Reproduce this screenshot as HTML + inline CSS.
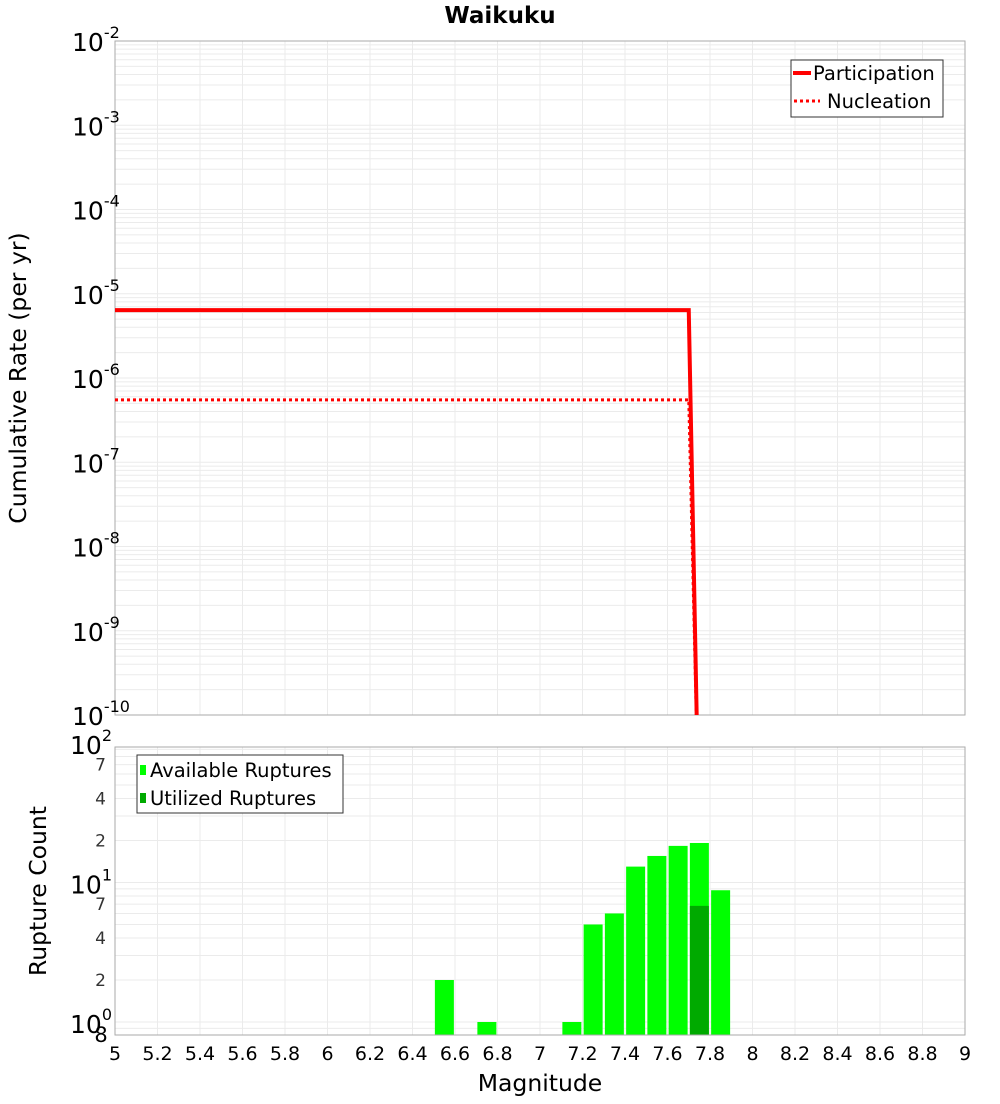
<!DOCTYPE html>
<html><head><meta charset="utf-8"><style>
body{margin:0;background:#fff;font-family:"DejaVu Sans","Liberation Sans",sans-serif}
svg text{font-family:"DejaVu Sans","Liberation Sans",sans-serif}
</style></head><body>
<svg id="c" width="1000" height="1100" xmlns="http://www.w3.org/2000/svg"></svg>
<script>
const lineMags=[5,7.7,7.745];
const participation=[6.4e-6,6.4e-6,1e-11];
const nucleation=[5.5e-7,5.5e-7,1e-11];
const barMags=[6.55,6.75,7.15,7.25,7.35,7.45,7.55,7.65,7.75,7.85];
const available=[2,1,1,5,6,13,15.5,18.3,19.2,8.8];
const utilized=[0,0,0,0,0,0,0,0,6.8,0];
const xTicks=[5,5.2,5.4,5.6,5.8,6,6.2,6.4,6.6,6.8,7,7.2,7.4,7.6,7.8,8,8.2,8.4,8.6,8.8,9];
const topExps=[-2,-3,-4,-5,-6,-7,-8,-9,-10];
const botMinor=[2,4,7,20,40,70];

const NS="http://www.w3.org/2000/svg";
const svg=document.getElementById('c');
function el(t,a,p){const e=document.createElementNS(NS,t);for(const k in a)e.setAttribute(k,a[k]);(p||svg).appendChild(e);return e;}
const X0=115,X1=965;
const xs=m=>X0+(m-5)/4*(X1-X0);
const T0=41,T1=715;
const yt=v=>T0+(-2-Math.log10(v))*(T1-T0)/8;
const B0=747,B1=1035;
const yb=v=>1022-Math.log10(v)*139.5;

const gTop=el('g',{});

for(let m=5;m<=9.001;m+=0.2){el('line',{x1:xs(m),x2:xs(m),y1:T0,y2:T1,stroke:'#ebebeb','stroke-width':1},gTop);}
for(let e=-10;e<-2;e++)for(let k=1;k<10;k++){const y=yt(k*Math.pow(10,e));el('line',{x1:X0,x2:X1,y1:y,y2:y,stroke:'#ebebeb','stroke-width':1},gTop);}
const f1=el('rect',{x:X0,y:T0,width:X1-X0,height:T1-T0,fill:'none',stroke:'#aaa'});

topExps.forEach(e=>{const y=yt(Math.pow(10,e));const t=el('text',{x:72,y:y+10,'font-size':25});

t.innerHTML='10<tspan dy="-13" font-size="16">'+e+'</tspan>';});
const clip=el('clipPath',{id:'tc'});el('rect',{x:X0,y:T0,width:X1-X0,height:T1-T0},clip);
function lp(arr){return lineMags.map((m,i)=>xs(m)+','+yt(arr[i])).join(' ');}
const pl=el('polyline',{points:lp(participation),fill:'none',stroke:'#f00','stroke-width':4,'clip-path':'url(#tc)'});

const nl=el('polyline',{points:lp(nucleation),fill:'none',stroke:'#f00','stroke-width':3,'stroke-dasharray':'3,3','clip-path':'url(#tc)'});

const lg=el('g',{});
el('rect',{x:791,y:60,width:152,height:57,fill:'#fff',stroke:'#333'},lg);
el('line',{x1:793,x2:811,y1:73,y2:73,stroke:'#f00','stroke-width':4},lg);
el('text',{x:813,y:80,'font-size':19.5},lg).textContent='Participation';
el('line',{x1:794,x2:820,y1:101,y2:101,stroke:'#f00','stroke-width':3,'stroke-dasharray':'3,3'},lg);
el('text',{x:827,y:108,'font-size':19.5},lg).textContent='Nucleation';
const tt=el('text',{x:500,y:23,'font-size':23,'font-weight':'bold','text-anchor':'middle'});
tt.textContent='Waikuku';
const yl=el('text',{x:0,y:0,'font-size':23.5,'text-anchor':'middle',transform:'translate(26,378) rotate(-90)'});
yl.textContent='Cumulative Rate (per yr)';

const gB=el('g',{});
for(let m=5;m<=9.001;m+=0.2){el('line',{x1:xs(m),x2:xs(m),y1:B0,y2:B1,stroke:'#ebebeb'},gB);}
[0.9,1,2,3,4,5,6,7,8,9,10,20,30,40,50,60,70,80,90].forEach(v=>{const y=yb(v);if(y>B0&&y<B1)el('line',{x1:X0,x2:X1,y1:y,y2:y,stroke:'#ebebeb'},gB);});
barMags.forEach((m,i)=>{const w=19,x=xs(m)-w/2;
const r=el('rect',{x:x,y:yb(available[i]),width:w,height:B1-yb(available[i]),fill:'#00ff00'});

if(utilized[i]>0){const u=el('rect',{x:x,y:yb(utilized[i]),width:w,height:B1-yb(utilized[i]),fill:'#00aa00'});
}});
const f2=el('rect',{x:X0,y:B0,width:X1-X0,height:B1-B0,fill:'none',stroke:'#aaa'});

[2,1,0].forEach(e=>{const y=yb(Math.pow(10,e));const t=el('text',{x:70,y:y+11,'font-size':25});

t.innerHTML='10<tspan dy="-13" font-size="16">'+e+'</tspan>';});
botMinor.forEach(v=>{const t=el('text',{x:106,y:yb(v)+6,'font-size':17,'text-anchor':'end',fill:'#333'});
t.textContent=String(v).charAt(0);});
const t8=el('text',{x:101,y:1042,'font-size':21,'text-anchor':'middle'});t8.textContent='8';
xTicks.forEach(m=>{const t=el('text',{x:xs(m),y:1060,'font-size':19,'text-anchor':'middle'});
t.textContent=String(m);});
const xl=el('text',{x:540,y:1091,'font-size':23.5,'text-anchor':'middle'});
xl.textContent='Magnitude';
const yl2=el('text',{x:0,y:0,'font-size':23.5,'text-anchor':'middle',transform:'translate(46,891) rotate(-90)'});
yl2.textContent='Rupture Count';
const lg2=el('g',{});
el('rect',{x:137,y:755,width:206,height:58,fill:'#fff',stroke:'#333'},lg2);
el('rect',{x:140,y:765,width:6,height:10,fill:'#00ff00'},lg2);
el('text',{x:150,y:777,'font-size':19.5},lg2).textContent='Available Ruptures';
el('rect',{x:140,y:793,width:6,height:10,fill:'#00aa00'},lg2);
el('text',{x:150,y:805,'font-size':19.5},lg2).textContent='Utilized Ruptures';
</script>
</body></html>
